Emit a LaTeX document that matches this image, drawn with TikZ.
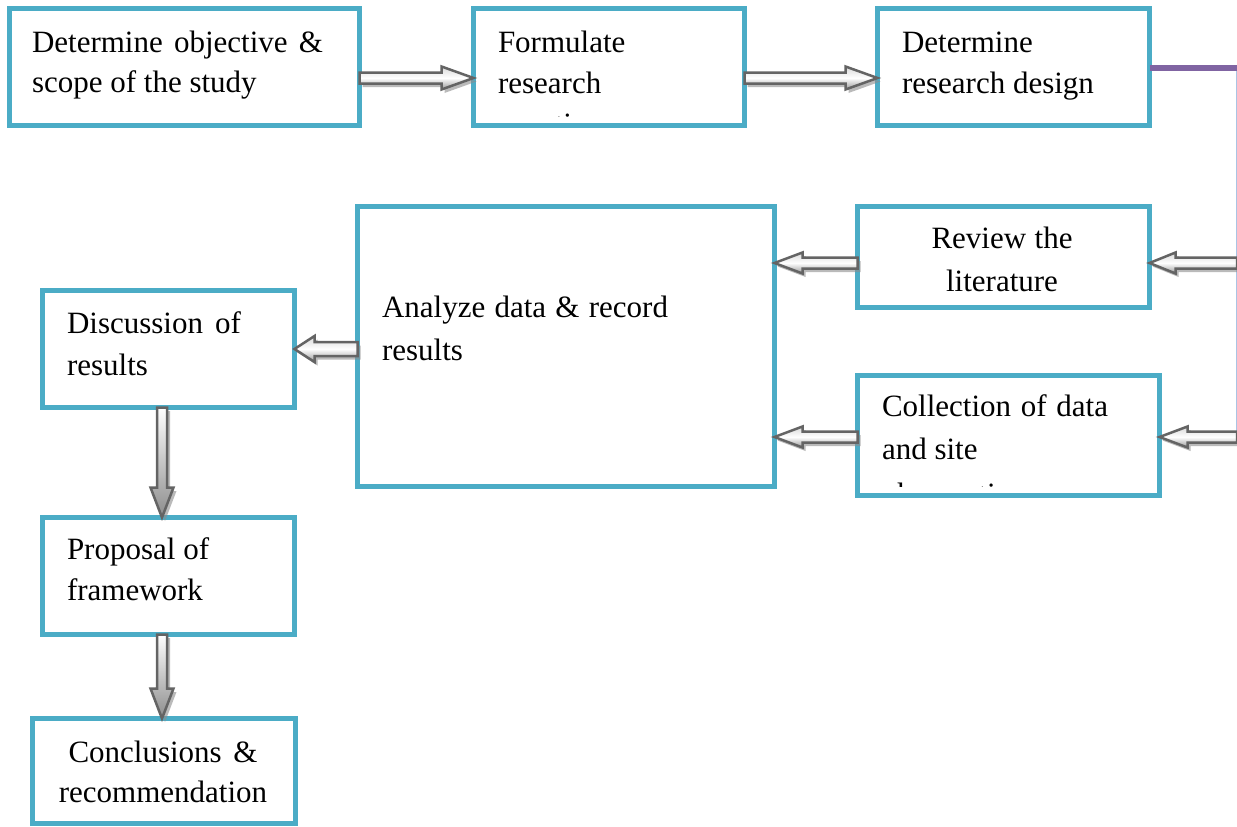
\documentclass[tikz,border=0pt]{standalone}
\usepackage{fontspec}
\setmainfont{Liberation Serif}
\usetikzlibrary{calc,shadows}
\definecolor{boxblue}{RGB}{75,172,198}
\definecolor{purp}{RGB}{128,100,162}
\definecolor{lblue}{RGB}{170,196,228}
\definecolor{arrline}{RGB}{100,100,100}
\tikzset{
  box/.style={rectangle, draw=boxblue, line width=5pt, fill=white, inner sep=0pt, outer sep=0pt},
  txt/.style={inner sep=0pt, outer sep=0pt, font=\fontsize{31}{40}\selectfont, anchor=base west},
  ctxt/.style={txt, anchor=base},
  arrbase/.style={draw=arrline, line width=2.5pt, line join=miter,
    drop shadow={shadow xshift=3pt, shadow yshift=-3.5pt, fill=black!45, opacity=0.6}},
  harr/.style={arrbase, top color=black!15, bottom color=black!40, middle color=white},
  varr/.style={arrbase, top color=white, bottom color=black!45},
}
% block arrow: [style]{from}{to}{shaft half width}{head half width}{head length}
\newcommand\barrow[6][harr]{%
  \draw[#1] let \p1=(#2), \p2=(#3),
    \n1={veclen(\x2-\x1,\y2-\y1)}, \n2={(\x2-\x1)/\n1}, \n3={(\y2-\y1)/\n1} in
    ({\x1-(\n3)*#4},{\y1+(\n2)*#4})
    -- ({\x2-(\n2)*#6-(\n3)*#4},{\y2-(\n3)*#6+(\n2)*#4})
    -- ({\x2-(\n2)*#6-(\n3)*#5},{\y2-(\n3)*#6+(\n2)*#5})
    -- (\x2,\y2)
    -- ({\x2-(\n2)*#6+(\n3)*#5},{\y2-(\n3)*#6-(\n2)*#5})
    -- ({\x2-(\n2)*#6+(\n3)*#4},{\y2-(\n3)*#6-(\n2)*#4})
    -- ({\x1+(\n3)*#4},{\y1-(\n2)*#4}) -- cycle;}
\begin{document}
\begin{tikzpicture}[x=1pt,y=-1pt]
\useasboundingbox (0,0) rectangle (1237,827);
% boxes
\node[box, minimum width=350pt, minimum height=117pt] (b1) at (184.5,67) {};
\node[box, minimum width=271pt, minimum height=117pt] (b2) at (609,67) {};
\node[box, minimum width=272pt, minimum height=117pt] (b3) at (1013.5,67) {};
\node[box, minimum width=292pt, minimum height=101pt] (b4) at (1003.5,257) {};
\node[box, minimum width=417pt, minimum height=280pt] (b5) at (566,346.5) {};
\node[box, minimum width=302pt, minimum height=120pt] (b6) at (1008.5,435.5) {};
\node[box, minimum width=252pt, minimum height=117pt] (b7) at (168.5,349) {};
\node[box, minimum width=252pt, minimum height=117pt] (b8) at (168.5,576) {};
\node[box, minimum width=263pt, minimum height=105pt] (b9) at (164,771) {};
% right-hand connector
\coordinate (tr) at (1236.5,68);
\coordinate (rc1) at (1237,263);
\coordinate (rc2) at (1237,437);
\coordinate (rl) at (1236.5,440);
\draw[lblue, line width=1.5pt] (tr) -- (rl);
\draw[purp, line width=6pt] ([yshift=-1pt]b3.east) -- (tr);
% arrows
\barrow{[yshift=-11pt]b1.east}{[yshift=-11pt]b2.west}{5.5pt}{11.5pt}{32pt}
\barrow{[yshift=-11pt]b2.east}{[yshift=-11pt]b3.west}{5.5pt}{11.5pt}{32pt}
\barrow{rc1}{[yshift=-6pt]b4.east}{5.5pt}{10.5pt}{26pt}
\barrow{[yshift=-6pt]b4.west}{[yshift=83.5pt]b5.east}{5.5pt}{10.5pt}{28pt}
\barrow{rc2}{[yshift=-1.5pt]b6.east}{5.5pt}{10.5pt}{28pt}
\barrow{[yshift=-1.5pt]b6.west}{[yshift=-90.5pt]b5.east}{5.5pt}{10.5pt}{28pt}
\barrow{[yshift=-2.5pt]b5.west}{b7.east}{7pt}{13pt}{20pt}
\barrow[varr]{[xshift=-6.5pt]b7.south}{[xshift=-6.5pt]b8.north}{5pt}{11.5pt}{30pt}
\barrow[varr]{[xshift=-6.5pt]b8.south}{[xshift=-2pt]b9.north}{5pt}{11.5pt}{30pt}
% texts
\node[txt] (t1a) at (32,52) {\makebox[291pt][s]{Determine objective \&}};
\node[txt] (t1b) at (32,92) {scope of the study};
\node[txt] (t2a) at (498,52) {Formulate};
\node[txt] (t2b) at (498,93) {research};
\begin{scope}
  \clip (476,20) rectangle (742,116);
  \node[txt] (t2c) at (498,134) {questions};
\end{scope}
\node[txt] (t3a) at (902,52) {Determine};
\node[txt] (t3b) at (902,93) {research design};
\node[ctxt] (t4a) at (1002,248) {\makebox[141pt][s]{Review the}};
\node[ctxt] (t4b) at (1002,291) {literature};
\node[txt] (t5a) at (382,317) {\makebox[286pt][s]{Analyze data \& record}};
\node[txt] (t5b) at (382,360) {results};
\node[txt] (t6a) at (882,416) {\makebox[226pt][s]{Collection of data}};
\node[txt] (t6b) at (882,459) {and site};
\begin{scope}
  \clip (860,380) rectangle (1156,486);
  \node[txt] (t6c) at (882,504) {observation};
\end{scope}
\node[txt] (t7a) at (67,333) {\makebox[174pt][s]{Discussion of}};
\node[txt] (t7b) at (67,375) {results};
\node[txt] (t8a) at (67,559) {Proposal of};
\node[txt] (t8b) at (67,600) {framework};
\node[ctxt] (t9a) at (163,762) {\makebox[189pt][s]{Conclusions \&}};
\node[ctxt] (t9b) at (163,802) {recommendation};
\end{tikzpicture}
\end{document}
